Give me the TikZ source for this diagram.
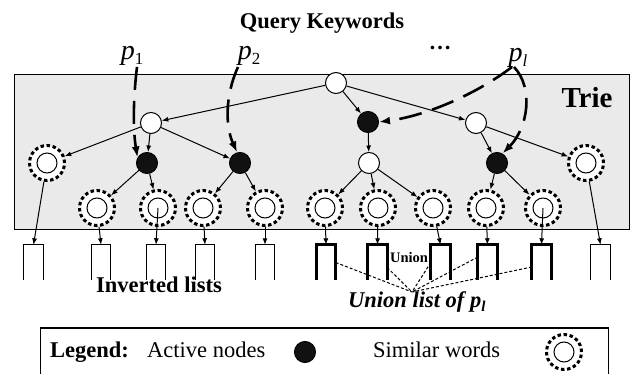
\documentclass[tikz,border=0pt]{standalone}
\usepackage{fontspec}
\setmainfont{Liberation Serif}
\usetikzlibrary{arrows.meta,calc}
\definecolor{triegray}{RGB}{234,234,234}
\definecolor{nodeblack}{RGB}{17,17,17}
\newcommand\bodysize{\fontsize{22.5}{27}\selectfont}

\tikzset{
  plainnode/.style={circle,draw,line width=1pt,fill=white,minimum size=21pt,inner sep=0pt},
  activenode/.style={circle,draw,line width=1pt,fill=nodeblack,minimum size=21pt,inner sep=0pt},
  similarnode/.style={circle,draw,line width=3pt,dash pattern=on 3.5pt off 2.6pt,fill=white,
    minimum size=35pt,inner sep=0pt,
    path picture={\draw[solid,line width=1pt] (path picture bounding box.center) circle (10pt);}},
  edge/.style={line width=1pt,-{Latex[length=6.5pt,width=5pt]}},
  querypath/.style={line width=2.6pt,dash pattern=on 23pt off 11pt,-{Latex[length=11pt,width=8pt]}},
  listbox/.style={minimum width=19pt,minimum height=35pt,inner sep=0pt},
  thinlist/.style={line width=1pt},
  thicklist/.style={line width=3pt},
  unionline/.style={line width=1pt,dash pattern=on 3pt off 2pt},
  txt/.style={inner sep=0pt,anchor=base,font=\bodysize},
}

\begin{document}
\begin{tikzpicture}[x=1pt,y=-1pt]
\useasboundingbox (0,0) rectangle (635,374);

% trie background
\draw[line width=1pt,fill=triegray] (14,75) rectangle (629,230);
\node[txt,font=\fontsize{29}{34}\selectfont\bfseries] (trie) at (587,108) {Trie};

% labels above the trie
\node[txt,font=\bodysize\bfseries] (query) at (322,29) {Query Keywords};
\node[txt,font=\fontsize{28}{30}\selectfont] (p1) at (132,60) {\textit{p}\raisebox{-5pt}{\fontsize{17}{17}\selectfont 1}};
\node[txt,font=\fontsize{28}{30}\selectfont] (p2) at (249,60) {\textit{p}\raisebox{-5pt}{\fontsize{17}{17}\selectfont 2}};
\node[txt,font=\bodysize\bfseries] (dots) at (440,50) {\ldots};
\node[txt,font=\fontsize{28}{30}\selectfont] (pl) at (518,62) {\textit{p}\raisebox{-5pt}{\fontsize{17}{17}\selectfont\itshape l}};

% trie nodes
\node[plainnode]  (root) at (336,83) {};
\node[plainnode]  (la)   at (151,123) {};
\node[activenode] (bm)   at (368,122) {};
\node[plainnode]  (lc)   at (476,123) {};
\node[similarnode] (sa)  at (47,163) {};
\node[activenode] (bp1)  at (147,163) {};
\node[activenode] (bp2)  at (240,163) {};
\node[plainnode]  (wm)   at (369,163) {};
\node[activenode] (br)   at (497,163) {};
\node[similarnode] (sb)  at (586,163) {};
\node[similarnode] (s1)  at (97,208) {};
\node[similarnode] (s2)  at (158,208) {};
\node[similarnode] (s3)  at (203,208) {};
\node[similarnode] (s4)  at (265,208) {};
\node[similarnode] (s5)  at (325,208) {};
\node[similarnode] (s6)  at (378,208) {};
\node[similarnode] (s7)  at (433,208) {};
\node[similarnode] (s8)  at (486,208) {};
\node[similarnode] (s9)  at (543,208) {};

% trie edges
\draw[edge] (root) -- (la);
\draw[edge] (root) -- (bm);
\draw[edge] (root) -- (lc);
\draw[edge] (la) -- (sa);
\draw[edge] (la) -- (bp1);
\draw[edge] (la) -- (bp2);
\draw[edge] (bm) -- (wm);
\draw[edge] (lc) -- (br);
\draw[edge] (lc) -- (sb);
\draw[edge] (bp1) -- (s1);
\draw[edge] (bp1) -- (s2);
\draw[edge] (bp2) -- (s3);
\draw[edge] (bp2) -- (s4);
\draw[edge] (wm) -- (s5);
\draw[edge] (wm) -- (s6);
\draw[edge] (wm) -- (s7);
\draw[edge] (br) -- (s8);
\draw[edge] (br) -- (s9);

% query prefixes reaching active nodes
\coordinate (p1s) at (137,67);
\coordinate (p2s) at (238,67);
\coordinate (pla) at (512,67);
\coordinate (plb) at (514,67);
\draw[querypath] (p1s) .. controls (133,100) and (133,130) .. (bp1.150);
\draw[querypath] (p2s) .. controls (224,98) and (226,128) .. (bp2.105);
\draw[querypath] (pla) .. controls (475,95) and (425,116) .. (bm.east);
\draw[querypath] (plb) .. controls (534,88) and (528,128) .. (br.60);

% inverted lists
\foreach \n/\x in {1/33.5,2/101,3/156,4/205,5/265,11/600.5}{
  \node[listbox] (L\n) at (\x,262.5) {};
  \draw[thinlist] (L\n.south west) -- (L\n.north west) -- (L\n.north east) -- (L\n.south east);
}
\foreach \n/\x in {6/326,7/377.5,8/440.5,9/487.5,10/541.5}{
  \node[listbox] (L\n) at (\x,262.5) {};
  \draw[thicklist] (L\n.south west) -- (L\n.north west) -- (L\n.north east) -- (L\n.south east);
}

% links from similar words to their lists
\draw[edge] (sa) -- (L1.north);
\draw[edge] (s1) -- (L2.north);
\draw[edge] (s2.center) -- (L3.north);
\draw[edge] (s3) -- (L4.north);
\draw[edge] (s4) -- (L5.north);
\draw[edge] (s5) -- (L6.north);
\draw[edge] (s6) -- (L7.north);
\draw[edge] (s7) -- (L8.north);
\draw[edge] (s8) -- (L9.north);
\draw[edge] (s9.center) -- (L10.north);
\draw[edge] (sb) -- (L11.north);

% union of the lists of p_l
\coordinate (U) at (412,292);
\draw[unionline] (L6.east) -- (U);
\draw[unionline] ([yshift=-5pt]L7.east) -- (U);
\draw[unionline] (L8.west) -- (U);
\draw[unionline] ([yshift=5.5pt]L9.west) -- (U);
\draw[unionline] ([yshift=-4.5pt]L10.west) -- (U);
\node[txt,font=\fontsize{14.5}{16}\selectfont\bfseries] (union) at (409,263) {Union};

\node[txt,font=\bodysize\bfseries] (inv) at (159,293) {Inverted lists};
\node[txt,font=\bodysize\bfseries\itshape,anchor=base west] (ulist) at (348,308) {Union list of \textit{p}\raisebox{-4pt}{\fontsize{15}{15}\selectfont\bfseries\itshape l}};

% legend
\draw[line width=1pt] (40,376) -- (40,328) -- (608,328) -- (608,376);
\node[txt,font=\bodysize\bfseries,anchor=base west] (leg) at (50,357) {Legend:};
\node[txt,anchor=base west] (act) at (147,357) {Active nodes};
\node[activenode] (legact) at (305,352) {};
\node[txt,anchor=base west] (sim) at (373,357) {Similar words};
\node[similarnode] (legsim) at (564,352) {};
\end{tikzpicture}
\end{document}
